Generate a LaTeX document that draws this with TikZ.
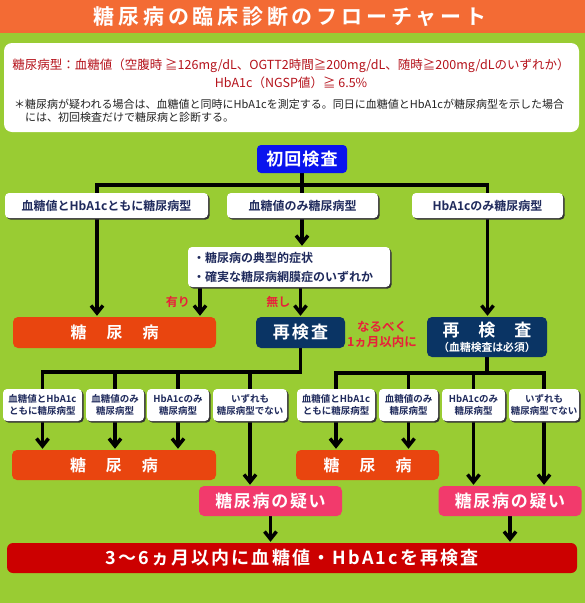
\documentclass[tikz,border=0pt]{standalone}
\usepackage{fontspec}
\setmainfont{Noto Sans CJK JP}[BoldFont={Noto Sans CJK JP Bold}]
\usetikzlibrary{arrows.meta,shadows}
\definecolor{bggreen}{HTML}{99CC33}
\definecolor{titleorange}{HTML}{F36B34}
\definecolor{dmorange}{HTML}{E9450F}
\definecolor{navyfill}{HTML}{0A3464}
\definecolor{firstblue}{HTML}{0A14EE}
\definecolor{suspink}{HTML}{F23A6C}
\definecolor{barred}{HTML}{CC0000}
\definecolor{critred}{HTML}{B5121B}
\definecolor{labelred}{HTML}{E8213A}
\definecolor{boxtext}{HTML}{1F2A5C}
\definecolor{notegray}{HTML}{222222}
\newcommand{\pxfont}[2]{\fontsize{#1pt}{#2pt}\selectfont}
\pgfdeclarelayer{back}
\pgfdeclarelayer{lines}
\pgfsetlayers{back,lines,main}
\tikzset{
  conn/.style={line width=3.5pt,line cap=rect},
  arr/.style={conn,-{Straight Barb[length=7.5pt,width=12pt]},shorten >=1pt},
  wbox/.style={fill=white,rounded corners=4pt,inner sep=0pt,text=boxtext,font=\bfseries\pxfont{12}{14},
    drop shadow={shadow xshift=1.6pt,shadow yshift=-1.6pt,fill=black!80,opacity=1}},
  sbox/.style={wbox,font=\bfseries\pxfont{9.5}{12.5},align=center,minimum height=32pt},
  dmbox/.style={fill=dmorange,rounded corners=5pt,inner sep=0pt,text=white,font=\bfseries\pxfont{16}{16}},
  navybox/.style={fill=navyfill,rounded corners=5pt,inner sep=0pt,text=white,font=\bfseries\pxfont{17}{17}},
  susbox/.style={fill=suspink,rounded corners=5pt,inner sep=0pt,text=white,
    font=\bfseries\pxfont{17}{17}\addfontfeatures{LetterSpace=10},minimum width=143pt,minimum height=30pt},
  redlabel/.style={text=labelred,font=\bfseries\pxfont{12}{15}}
}
\begin{document}
\begin{tikzpicture}[x=1pt,y=-1pt]
\useasboundingbox (0,0) rectangle (585,603);
\begin{pgfonlayer}{back}
\fill[bggreen] (0,0) rectangle (585,603);
\fill[titleorange] (0,0) rectangle (585,33);
\end{pgfonlayer}
% title and criteria
\node[text=white,font=\bfseries\pxfont{21}{21}\addfontfeatures{LetterSpace=18}] (title) at (290,17) {糖尿病の臨床診断のフローチャート};
\node[fill=white,rounded corners=8pt,minimum width=575pt,minimum height=89pt] (panel) at (291.5,87.5) {};
\node[text=critred,align=center,font=\pxfont{12.5}{18}] (crit) at (291,74) {糖尿病型：血糖値（空腹時 ≧126mg/dL、OGTT2時間≧200mg/dL、随時≧200mg/dLのいずれか）\\HbA1c（NGSP値）≧ 6.5\%};
\node[text=notegray,align=left,anchor=west,inner sep=0pt,font=\pxfont{11}{13}] (note) at (14,110.5) {＊糖尿病が疑われる場合は、血糖値と同時にHbA1cを測定する。同日に血糖値とHbA1cが糖尿病型を示した場合\\\hspace*{11pt}には、初回検査だけで糖尿病と診断する。};
% first stage
\node[fill=firstblue,rounded corners=4pt,text=white,minimum width=90pt,minimum height=28pt,inner sep=0pt,
  font=\bfseries\pxfont{17}{17}\addfontfeatures{LetterSpace=6}] (first) at (302,159) {初回検査};
\node[wbox,minimum width=203pt,minimum height=25pt] (both) at (106.5,205.5) {血糖値とHbA1cともに糖尿病型};
\node[wbox,minimum width=151pt,minimum height=25pt] (glu) at (302.5,205.5) {血糖値のみ糖尿病型};
\node[wbox,minimum width=151pt,minimum height=25pt] (hba) at (487.5,205.5) {HbA1cのみ糖尿病型};
\node[wbox,align=left,text width=192pt,inner xsep=5pt,minimum height=40pt,font=\bfseries\pxfont{12}{19}] (symp) at (289,267) {・糖尿病の典型的症状\\・確実な糖尿病網膜症のいずれか};
\node[dmbox,minimum width=203pt,minimum height=31pt] (dm1) at (114.5,332.5) {糖\hspace{20pt}尿\hspace{20pt}病};
\node[navybox,minimum width=89pt,minimum height=31pt,font=\bfseries\pxfont{17}{17}\addfontfeatures{LetterSpace=12}] (re1) at (300.5,332.5) {再検査};
\node[redlabel,align=center,font=\bfseries\pxfont{12.5}{15}] (soon) at (382,334.5) {なるべく\\1ヵ月以内に};
\node[navybox,minimum width=120pt,minimum height=40pt,align=center] (re2) at (487,337) {再\hspace{19pt}検\hspace{19pt}査\\[-2pt]{\pxfont{10.8}{13}（血糖検査は必須）}};
% second stage
\foreach \n/\x/\w/\t in {l1/42.5/79/{血糖値とHbA1c\\ともに糖尿病型}, l2/115/58/{血糖値のみ\\糖尿病型},
    l3/178/62/{HbA1cのみ\\糖尿病型}, l4/250/74/{いずれも\\糖尿病型でない},
    r1/336/78/{血糖値とHbA1c\\ともに糖尿病型}, r2/408.5/59/{血糖値のみ\\糖尿病型},
    r3/473.5/63/{HbA1cのみ\\糖尿病型}, r4/544/70/{いずれも\\糖尿病型でない}}
  \node[sbox,minimum width=\w pt] (\n) at (\x,405) {\t};
\node[dmbox,minimum width=204pt,minimum height=30pt] (dm2) at (114,465) {糖\hspace{20pt}尿\hspace{20pt}病};
\node[dmbox,minimum width=143pt,minimum height=30pt] (dm3) at (367.5,465) {糖\hspace{20pt}尿\hspace{20pt}病};
\node[susbox] (sus1) at (270.5,501) {糖尿病の疑い};
\node[susbox] (sus2) at (510,501) {糖尿病の疑い};
\node[fill=barred,rounded corners=6pt,text=white,minimum width=570pt,minimum height=30pt,inner sep=0pt,
  font=\bfseries\pxfont{18}{18}\addfontfeatures{LetterSpace=12}] (bar) at (292,558) {3～6ヵ月以内に血糖値・HbA1cを再検査};
% connectors
\coordinate (ytop) at (0,185);
\coordinate (yleft) at (0,372);
\coordinate (yright) at (0,373);
\coordinate (xa) at (97,0);
\coordinate (xyes) at (200,0);
\begin{pgfonlayer}{lines}
\draw[conn] (first.south) -- (first.south |- ytop);
\draw[conn] (xa |- ytop) -- (hba.north |- ytop);
\draw[arr] (xa |- ytop) -- (xa |- dm1.north);
\draw[arr] (first.south) -- (first.south |- symp.north);
\draw[arr] (hba.north |- ytop) -- (hba.north |- re2.north);
\draw[arr] (xyes |- symp.south) -- (xyes |- dm1.north) node[redlabel,midway,left=5pt] {有り};
\draw[arr] (re1.north |- symp.south) -- (re1.north) node[redlabel,midway,left=5pt] {無し};
\draw[conn] (re1.south) -- (re1.south |- yleft);
\draw[conn] (l1.center |- yleft) -- (re1.south |- yleft);
\foreach \b in {l1,l2,l3}
  \draw[arr] (\b.center |- yleft) -- (\b.center |- dm2.north);
\draw[arr] (l4.center |- yleft) -- (l4.center |- sus1.north);
\draw[conn] (re2.south) -- (re2.south |- yright);
\draw[conn] (r1.center |- yright) -- (r4.center |- yright);
\foreach \b in {r1,r2}
  \draw[arr] (\b.center |- yright) -- (\b.center |- dm3.north);
\foreach \b in {r3,r4}
  \draw[arr] (\b.center |- yright) -- (\b.center |- sus2.north);
\draw[arr] (sus1.south) -- (sus1.south |- bar.north);
\draw[arr] (sus2.south) -- (sus2.south |- bar.north);
\end{pgfonlayer}
\end{tikzpicture}
\end{document}
